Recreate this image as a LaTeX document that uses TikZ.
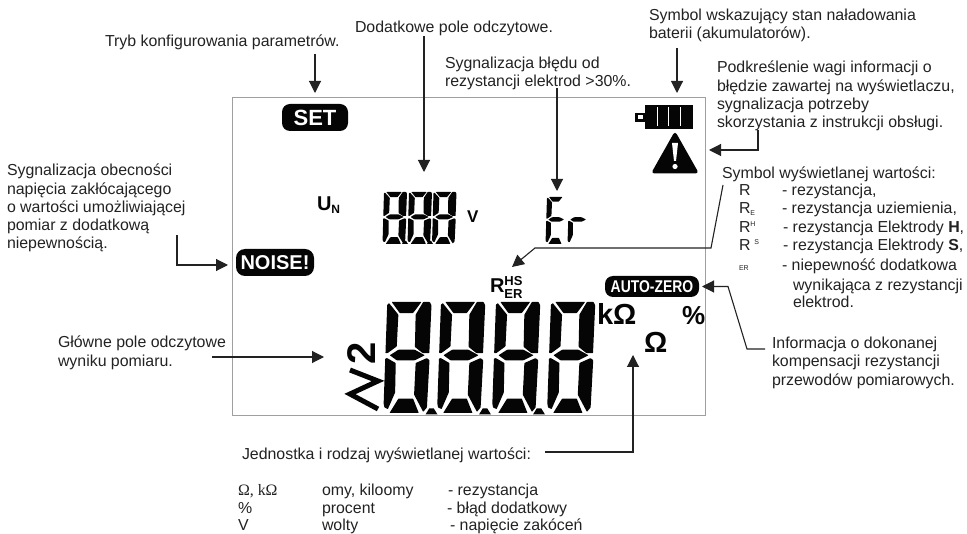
\documentclass[tikz,border=0pt]{standalone}
\usepackage{fontspec}
\usepackage{graphicx}
\setmainfont{Liberation Sans}
\newfontfamily\serifsym{Liberation Serif}
\usetikzlibrary{arrows.meta}
\definecolor{ink}{HTML}{222222}
\definecolor{lcdblack}{HTML}{050505}
\newcommand{\segA}{\fill (10,0) -- (77,0) -- (59,20) -- (29,20) -- cycle;}
\newcommand{\segB}{\fill (81,0) -- (96,0) -- (100,6) -- (99,92) -- (84,92) -- (66,81) -- (65,23) -- cycle;}
\newcommand{\segC}{\fill (94,101) -- (100,105) -- (98,190) -- (90,198) -- (68,167) -- (69,110) -- cycle;}
\newcommand{\segD}{\fill (14,200) -- (80,200) -- (66,174) -- (33,174) -- cycle;}
\newcommand{\segE}{\fill (0,102) -- (4,101) -- (24,110) -- (25,163) -- (10,193) -- (2,190) -- (0,183) -- cycle;}
\newcommand{\segF}{\fill (0,5) -- (4,2) -- (26,23) -- (25,80) -- (5,92) -- (0,92) -- cycle;}
\newcommand{\segG}{\fill (10,96) -- (29,86) -- (66,86) -- (89,96) -- (67,105) -- (26,105) -- cycle;}
% x, y, width, height, slant, segments
\newcommand{\lcdglyph}[6]{\begin{scope}[shift={(#1,#2)},x={(#3pt/100,0pt)},y={(-#5pt/200,-#4pt/200)},lcdblack,rounded corners=0.5pt]#6\end{scope}}
\newcommand{\lcdeight}[5]{\lcdglyph{#1}{#2}{#3}{#4}{#5}{\segA\segB\segC\segD\segE\segF\segG}}
\newcommand{\lcddot}[3]{\fill[lcdblack] (#1-#3,#2) -- (#1-#3/2.6,#2-#3) -- (#1+#3/2.6,#2-#3) -- (#1+#3,#2) -- cycle;}
\tikzset{
  txt/.style={inner sep=0pt,outer sep=0pt,anchor=north west,align=left,text=ink,font=\fontsize{15.9}{18.3}\selectfont},
  rowtxt/.style={inner sep=0pt,outer sep=0pt,anchor=base west,text=ink,font=\fontsize{15.9}{18.3}\selectfont},
  arr/.style={draw=ink,line width=1.1pt,-{Triangle[length=12pt,width=12pt]}},
  lcdbold/.style={inner sep=0pt,outer sep=0pt,text=lcdblack,font=\bfseries},
  pill/.style={fill=lcdblack,text=white,rounded corners=#1,inner sep=0pt,outer sep=0pt,font=\bfseries},
}
\begin{document}
\begin{tikzpicture}[x=1pt,y=-1pt]
\useasboundingbox (0,0) rectangle (967,534);
% display frame
\draw[gray!75,line width=0.9pt] (232,97) rectangle (705,415);
% pills
\node[pill=8pt,minimum width=66pt,minimum height=27pt] (setpill) at (315,117.5) {\fontsize{22}{22}\selectfont SET};
\node[pill=9pt,minimum width=78pt,minimum height=27pt] (noise) at (275,262.5) {\fontsize{20}{20}\selectfont NOISE!};
\node[pill=8pt,minimum width=94pt,minimum height=21pt] (autozero) at (652,286.5) {\fontsize{17}{17}\selectfont\scalebox{0.82}[1]{AUTO-ZERO}};
% small reading
\lcdeight{384}{192}{23}{52}{1.5}
\lcdeight{409}{192}{23}{52}{1.5}
\lcdeight{433.5}{192}{23}{52}{1.5}
\lcddot{405}{244}{3}
\lcddot{430}{244}{3}
% Er
\lcdglyph{547}{197}{20}{47}{1.5}{\segA\segD\segE\segF\segG}
\lcdglyph{569}{197}{20}{47}{1.5}{\segE\segG}
% main reading
\lcdeight{387.3}{302}{44.3}{111}{4}
\lcdeight{441}{302}{44.3}{111}{4}
\lcdeight{496}{302}{44.3}{111}{4}
\lcdeight{551}{302}{44.3}{111}{4}
\lcddot{431.5}{414.5}{6}
\lcddot{485}{414.5}{6}
\lcddot{539}{414.5}{6}
% chevrons and 2
\draw[lcdblack,line width=5pt,miter limit=10] (350,370) -- (378,381) -- (350,394) -- (378,409);
\node[lcdbold,rotate=90] (two) at (362,353) {\fontsize{40}{40}\selectfont 2};
% unit labels
\node[lcdbold,anchor=base west] (un) at (317,211) {\fontsize{20}{20}\selectfont U\raisebox{-3pt}{\fontsize{12}{12}\selectfont N}};
\node[lcdbold,anchor=base west] (vv) at (467,223) {\fontsize{17}{17}\selectfont V};
\node[lcdbold,anchor=base west] (rr) at (490,293) {\fontsize{20}{20}\selectfont R\fontsize{13}{13}\selectfont\rlap{\raisebox{7.5pt}{HS}}\raisebox{-6pt}{ER}};
\node[lcdbold,anchor=base west] (kohm) at (597,325) {\fontsize{29}{29}\selectfont kΩ};
\node[lcdbold,anchor=base west] (ohm) at (644,353) {\fontsize{29}{29}\selectfont Ω};
\node[lcdbold,anchor=base west] (pct) at (682,325) {\fontsize{26}{26}\selectfont\%};
% battery
\fill[lcdblack] (635,113) rectangle (646,122);
\fill[white] (638,115.5) rectangle (643,119.5);
\fill[lcdblack] (645,105) rectangle (693,129);
\fill[white] (656.5,107.5) rectangle (657.7,126.5);
\fill[white] (667.5,107.5) rectangle (668.7,126.5);
\fill[white] (679.5,107.5) rectangle (680.7,126.5);
% warning
\fill[lcdblack,rounded corners=3.5pt] (675,131) -- (699,173.5) -- (651,173.5) -- cycle;
\fill[white] (672,143) -- (678,143) -- (676,161) -- (674,161) -- cycle;
\fill[white] (675,166.5) circle (2.6);
% texts
\node[txt] (t1) at (105,35) {Tryb konfigurowania parametrów.};
\node[txt] (t2) at (355,21) {Dodatkowe pole odczytowe.};
\node[txt] (t3) at (445,57) {Sygnalizacja błędu od\\rezystancji elektrod >30\%.};
\node[txt] (t4) at (649,9) {Symbol wskazujący stan naładowania\\baterii (akumulatorów).};
\node[txt] (t5) at (717,61) {Podkreślenie wagi informacji o\\błędzie zawartej na wyświetlaczu,\\sygnalizacja potrzeby\\skorzystania z instrukcji obsługi.};
\node[txt] (t6) at (7,164) {Sygnalizacja obecności\\napięcia zakłócającego\\o wartości umożliwiającej\\pomiar z dodatkową\\niepewnością.};
\node[txt] (t7) at (58,336) {Główne pole odczytowe\\wyniku pomiaru.};
\node[txt] (t8) at (722,167) {Symbol wyświetlanej wartości:};
\node[txt] (t9) at (772,337) {Informacja o dokonanej\\kompensacji rezystancji\\przewodów pomiarowych.};
\node[txt] (t10) at (242,448) {Jednostka i rodzaj wyświetlanej wartości:};
% symbol list
\node[rowtxt] (r1) at (739,196) {R};
\node[rowtxt] (r2) at (739,214) {R\raisebox{-2pt}{\fontsize{7}{7}\selectfont E}};
\node[rowtxt] (r3) at (739,233) {R\raisebox{6pt}{\fontsize{7}{7}\selectfont H}};
\node[rowtxt] (r4) at (739,251) {R\raisebox{6pt}{\fontsize{7}{7}\selectfont\ \ S}};
\node[rowtxt] (r5) at (739,271) {\fontsize{7}{7}\selectfont ER};
\node[rowtxt] (d1) at (782,196) {- rezystancja,};
\node[rowtxt] (d2) at (782,214) {- rezystancja uziemienia,};
\node[rowtxt] (d3) at (783,233) {- rezystancja Elektrody \textbf{H},};
\node[rowtxt] (d4) at (783,251) {- rezystancja Elektrody \textbf{S},};
\node[rowtxt] (d5) at (782,271) {- niepewność dodatkowa};
\node[rowtxt] (d6) at (793,291) {wynikająca z rezystancji};
\node[rowtxt] (d7) at (793,308) {elektrod.};
% unit list
\node[rowtxt] (u1) at (238,496) {\serifsym Ω, kΩ};
\node[rowtxt] (u2) at (238,513) {\%};
\node[rowtxt] (u3) at (238,530) {V};
\node[rowtxt] (u4) at (322,496) {omy, kiloomy};
\node[rowtxt] (u5) at (322,513) {procent};
\node[rowtxt] (u6) at (322,530) {wolty};
\node[rowtxt] (u7) at (448,496) {- rezystancja};
\node[rowtxt] (u8) at (447,513) {- błąd dodatkowy};
\node[rowtxt] (u9) at (450,530) {- napięcie zakóceń};
% connector ends
\coordinate (a1s) at (315,54);
\coordinate (a2s) at (424,36);
\coordinate (a2e) at (424,172);
\coordinate (a3s) at (557,88);
\coordinate (a3e) at (557,191);
\coordinate (a4s) at (677,48);
\coordinate (a4e) at (677,93);
\coordinate (a5s) at (758,130);
\coordinate (a5k) at (758,150);
\coordinate (a5e) at (709,150);
\coordinate (a6s) at (723,185);
\coordinate (a6k) at (711,248);
\coordinate (a6j) at (535,248);
\coordinate (a6e) at (512,267);
\coordinate (a7s) at (765,349);
\coordinate (a7k) at (747,349);
\coordinate (a7j) at (728,286.5);
\coordinate (a8s) at (545,452);
\coordinate (a8k) at (633,452);
\coordinate (a8e) at (633,355);
\coordinate (a9s) at (212,357);
\coordinate (a9e) at (324,357);
\coordinate (a10s) at (177,235);
\coordinate (a10k) at (177,265);
\coordinate (a10e) at (228,265);
% connectors
\draw[arr,shorten >=11pt] (a1s) -- (setpill.north);
\draw[arr] (a2s) -- (a2e);
\draw[arr] (a3s) -- (a3e);
\draw[arr] (a4s) -- (a4e);
\draw[arr] (a5s) -- (a5k) -- (a5e);
\draw[arr] (a6s) -- (a6k) -- (a6j) -- (a6e);
\draw[arr,shorten >=3pt] (a7s) -- (a7k) -- (a7j) -- (autozero.east);
\draw[arr] (a8s) -- (a8k) -- (a8e);
\draw[arr] (a9s) -- (a9e);
\draw[arr] (a10s) -- (a10k) -- (a10e);
\end{tikzpicture}
\end{document}
